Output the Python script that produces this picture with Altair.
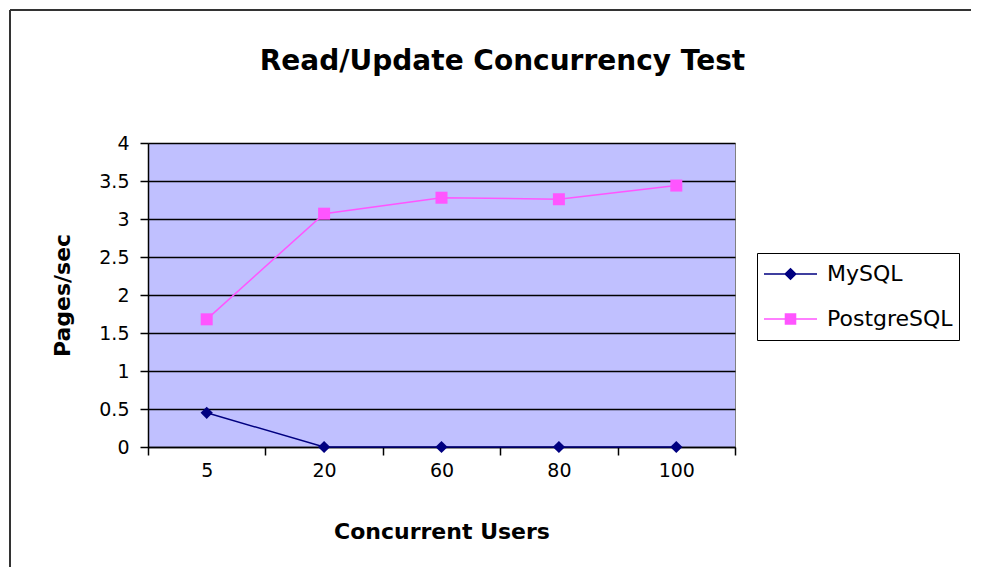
import altair as alt
import pandas as pd

users = ["5", "20", "60", "80", "100"]
mysql = [0.45, 0.0, 0.0, 0.0, 0.0]
postgres = [1.68, 3.07, 3.28, 3.26, 3.44]
series = ["MySQL", "PostgreSQL"]
colors = ["#000080", "#FF55FF"]
marker_shapes = ["diamond", "square"]
marker_sizes = [150, 144]
y_ticks = [0, 0.5, 1, 1.5, 2, 2.5, 3, 3.5, 4]

rows = []
for s, vals in zip(series, [mysql, postgres]):
    for u, v in zip(users, vals):
        rows.append({"users": u, "series": s, "value": v})
df = pd.DataFrame(rows)

FONT = "DejaVu Sans"
W, H = 587, 304

# legend symbols: a short line segment with the series marker on it
legend_paths = [
    "M-1,0L1,0M0,-0.2L0.2,0L0,0.2L-0.2,0Z",
    "M-1,0L1,0M-0.19,-0.19L0.19,-0.19L0.19,0.19L-0.19,0.19Z",
]
LEG_SIZE = 2809

legend = alt.Legend(
    title=None,
    orient="none",
    legendX=609,
    legendY=110,
    symbolSize=LEG_SIZE,
    symbolStrokeWidth=1.5,
    clipHeight=30,
    rowPadding=15,
    padding=6,
    labelOffset=9,
    labelFont=FONT,
    labelFontSize=22,
    labelColor="black",
    strokeColor="black",
    fillColor="white",
)

x_enc = alt.X(
    "users:N",
    sort=users,
    title="Concurrent Users",
    scale=alt.Scale(type="band", paddingInner=0, paddingOuter=0),
    axis=alt.Axis(
        labelAngle=0,
        tickBand="extent",
        tickSize=8,
        labelPadding=6,
        grid=False,
        titleY=84,
        titleBaseline="middle",
    ),
)
y_enc = alt.Y(
    "value:Q",
    title="Pages/sec",
    scale=alt.Scale(domain=[0, 4], nice=False, zero=True),
    axis=alt.Axis(
        values=y_ticks,
        labelExpr="'' + datum.value",
        tickSize=8,
        labelPadding=11,
        grid=True,
        titleX=-86,
        titleAngle=270,
        titleBaseline="middle",
    ),
)

base = alt.Chart(df)
layers = []
for s, c, shp, sz in zip(series, colors, marker_shapes, marker_sizes):
    sub = base.transform_filter(alt.datum.series == s)
    layers.append(sub.mark_line(strokeWidth=1.5, color=c).encode(x=x_enc, y=y_enc))
    layers.append(
        sub.mark_point(filled=True, opacity=1, shape=shp, size=sz, color=c).encode(x=x_enc, y=y_enc)
    )

# legend-only layer: its own marks are pushed out of the clipped view
legend_scale = alt.Scale(domain=series, range=colors)
legend_layer = base.mark_point(
    filled=True, opacity=1, strokeWidth=1.5, size=LEG_SIZE, clip=True, yOffset=2000
).encode(
    x=x_enc,
    y=y_enc,
    fill=alt.Fill("series:N", scale=legend_scale, legend=legend),
    stroke=alt.Stroke("series:N", scale=legend_scale, legend=legend),
    shape=alt.Shape("series:N", scale=alt.Scale(domain=series, range=legend_paths), legend=legend),
)

frame_df = pd.DataFrame({"k": [0]})
border_left = alt.Chart(frame_df).mark_rule(color="#333333", strokeWidth=2).encode(
    x=alt.value(-138), y=alt.value(-133), y2=alt.value(440)
)
border_top = alt.Chart(frame_df).mark_rule(color="#333333", strokeWidth=2).encode(
    x=alt.value(-138), x2=alt.value(850), y=alt.value(-133)
)

chart = (
    alt.layer(border_left, border_top, *layers, legend_layer)
    .properties(
        width=W,
        height=H,
        title=alt.TitleParams(
            "Read/Update Concurrency Test",
            font=FONT,
            fontSize=28,
            fontWeight="bold",
            color="black",
            anchor="middle",
            frame="group",
            dx=61,
            offset=-67,
        ),
        autosize=alt.AutoSizeParams(type="none"),
        padding={"left": 140, "top": 135, "right": 236, "bottom": 120},
    )
    .configure(background="white")
    .configure_view(fill="#C0C0FF", stroke="#808080", strokeWidth=1)
    .configure_axis(
        domainColor="black",
        domainWidth=1.5,
        tickColor="black",
        tickWidth=1.5,
        gridColor="black",
        gridWidth=1.5,
        gridOpacity=1,
        labelColor="black",
        labelFont=FONT,
        labelFontSize=19,
        titleColor="black",
        titleFont=FONT,
        titleFontSize=22,
        titleFontWeight="bold",
    )
)

chart.save("out.html", embed_options={"renderer": "svg", "actions": False})
